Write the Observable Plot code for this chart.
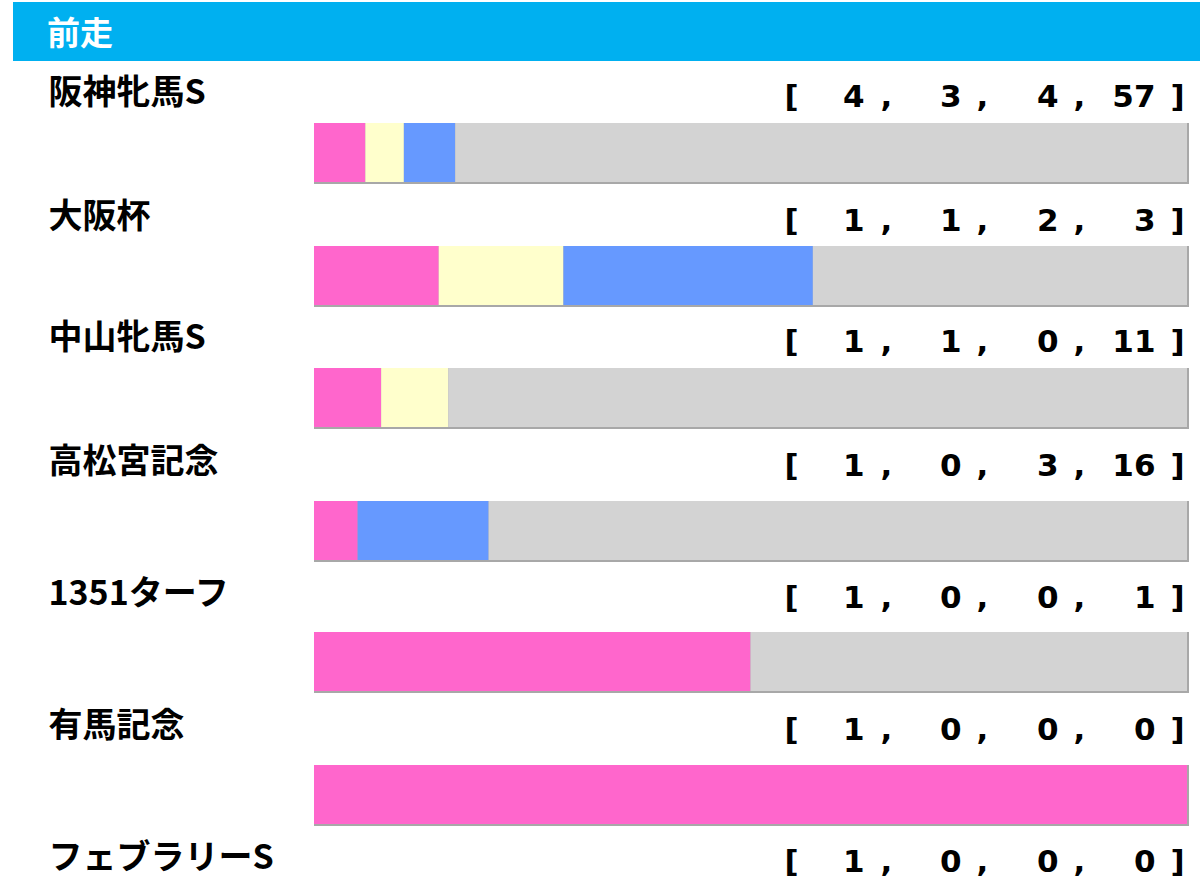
<!DOCTYPE html>
<html>
<head>
<meta charset="utf-8">
<script src="https://cdn.jsdelivr.net/npm/d3@7"></script>
<script src="https://cdn.jsdelivr.net/npm/@observablehq/plot@0.6"></script>
<style>
  html, body { margin: 0; padding: 0; background: #fff; overflow: hidden; }
  #header {
    margin: 2px 0 0 13px; height: 59px; line-height: 59px;
    background: #00b0f0; color: #fff;
    font-family: "Noto Sans CJK JP", sans-serif; font-weight: 700; font-size: 33px;
    padding-left: 34px; box-sizing: border-box;
  }
  #rows svg { display: block; }
</style>
</head>
<body>
<div id="header">前走</div>
<div id="rows"></div>
<script>
// ---- data ----
const races  = ["阪神牝馬S", "大阪杯", "中山牝馬S", "高松宮記念", "1351ターフ", "有馬記念", "フェブラリーS"];
const first  = [4, 1, 1, 1, 1, 1, 1];
const second = [3, 1, 1, 0, 0, 0, 0];
const third  = [4, 2, 0, 3, 0, 0, 0];
const other  = [57, 3, 11, 16, 1, 0, 0];
const ranks  = ["1着", "2着", "3着", "着外"];
const rankColors = ["#ff66cc", "#ffffcc", "#6699ff", "#d3d3d3"];

// ---- layout (pixels) ----
const rowHeights = [124, 121, 124, 132, 132, 132, 133];
const barOffsets = [62, 61, 62, 71, 70, 71, 71];
const barHeight = 59;
const labelBaseline = 42;
const numBaseline = 45;
const frameLeft = 314, frameRight = 1187;
const labelFont = {fontFamily: "'Noto Sans CJK JP', sans-serif", fontWeight: 700, fontSize: 34, fill: "#000"};
const numFont = {fontFamily: "'DejaVu Sans', sans-serif", fontWeight: 700, fontSize: 31, fill: "#000"};
// x positions of the bracket pieces
const numColsEnd = [864, 961, 1058, 1155];
const commaStart = [880, 976, 1073];
const openStart = 784, closeStart = 1170;

const container = document.getElementById("rows");

races.forEach((race, i) => {
  const counts = [first[i], second[i], third[i], other[i]];
  const total = d3.sum(counts);
  const long = ranks.map((r, k) => ({race, rank: r, count: counts[k]}));
  const H = rowHeights[i], off = barOffsets[i];
  const R = frameRight;
  const common = {frameAnchor: "top-right", lineAnchor: "bottom", dy: numBaseline - off, ...numFont};

  const marks = [
    // shadow under/right of the bar
    Plot.barX([{race, total}], {x: "total", y: "race", fill: "#a8a8a8", insetRight: -2, insetBottom: -2}),
    // stacked shares
    Plot.barX(long, {x: "count", y: "race", fill: "rank"}),
    // race label
    Plot.text([race], {text: d => d, frameAnchor: "top-left", lineAnchor: "bottom", textAnchor: "start",
      dx: 48 - frameLeft, dy: labelBaseline - off, ...labelFont}),
    // brackets
    Plot.text(["["], {text: d => d, textAnchor: "start", dx: openStart - R, ...common}),
    Plot.text(["]"], {text: d => d, textAnchor: "start", dx: closeStart - R, ...common})
  ];
  counts.forEach((c, k) => {
    marks.push(Plot.text([c], {text: d => String(d), textAnchor: "end", dx: numColsEnd[k] - R, ...common}));
  });
  commaStart.forEach(cx => {
    marks.push(Plot.text([","], {text: d => d, textAnchor: "start", dx: cx - R, ...common}));
  });

  const chart = Plot.plot({
    width: 1200,
    height: H,
    marginLeft: frameLeft,
    marginRight: 1200 - frameRight,
    marginTop: off,
    marginBottom: H - off - barHeight,
    x: {domain: [0, total], axis: null},
    y: {domain: [race], axis: null, padding: 0},
    color: {domain: ranks, range: rankColors},
    style: {background: "transparent", overflow: "visible"},
    marks
  });
  container.appendChild(chart);
});
</script>
</body>
</html>
